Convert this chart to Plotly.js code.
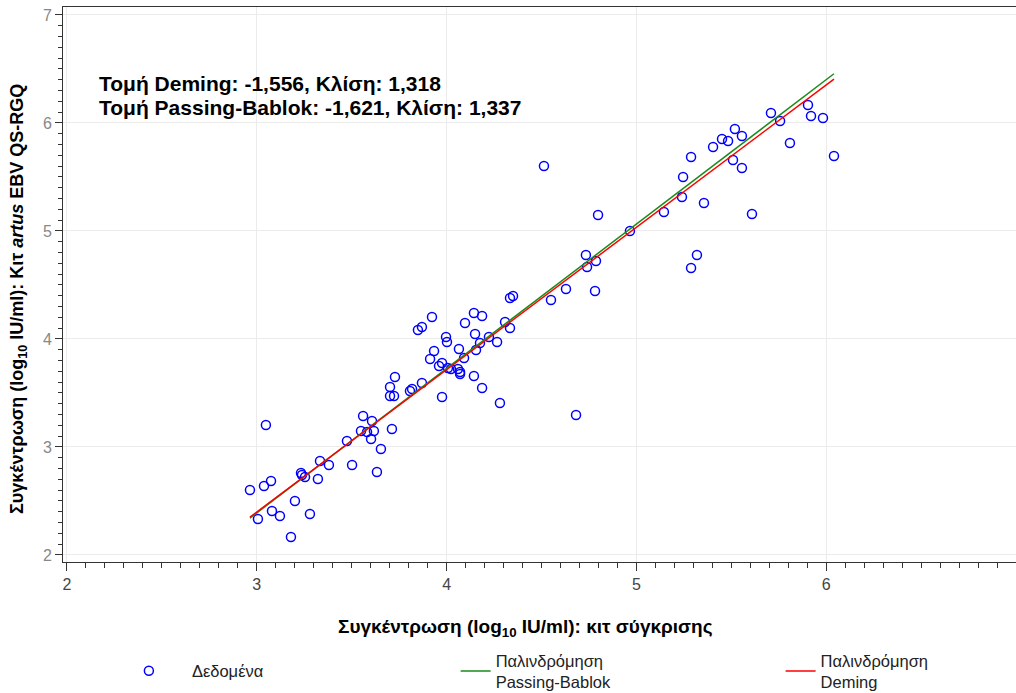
<!DOCTYPE html>
<html>
<head>
<meta charset="utf-8">
<script src="https://cdn.plot.ly/plotly-3.0.1.min.js"></script>
<style>html,body{margin:0;padding:0;background:#fff;}#chart{width:1016px;height:693px;}</style>
</head>
<body>
<div id="chart"></div>
<script>
// Comparison kit (x) and artus EBV QS-RGQ kit (y), log10 IU/ml
const xData = [2.964,3.006,3.038,3.048,3.075,3.080,3.122,3.180,3.201,3.233,3.238,3.254,3.280,3.322,3.333,3.380,3.475,3.502,3.560,3.549,3.581,3.607,3.617,3.602,3.654,3.633,3.712,
  3.728,3.702,3.702,3.723,3.807,3.818,3.870,3.849,3.870,3.923,3.913,3.934,3.960,3.976,3.976,3.997,4.002,4.007,4.023,4.060,4.071,4.071,4.065,4.092,4.097,4.144,4.150,4.155,4.144,4.176,4.187,4.187,4.223,4.266,4.281,4.308,4.334,4.334,4.350,4.550,4.629,4.682,
  4.513,4.734,4.740,4.787,4.782,4.798,4.966,5.145,5.240,5.246,5.288,5.288,5.319,5.356,5.404,5.451,5.483,5.519,5.556,5.509,5.556,5.609,5.709,5.757,5.809,5.904,5.920,5.983,6.041];
const yData = [2.602,2.333,2.639,3.204,2.685,2.407,2.361,2.167,2.500,2.759,2.741,2.722,2.380,2.704,2.870,2.833,3.056,2.833,3.287,3.148,3.139,3.241,3.148,3.074,2.981,2.769,3.167,
  3.648,3.556,3.472,3.472,3.519,3.537,3.593,4.083,4.111,4.204,3.815,3.889,3.750,3.778,3.463,4.019,3.972,3.731,3.722,3.722,3.694,3.676,3.907,3.824,4.148,4.241,4.046,3.898,3.657,3.963,4.213,3.546,4.019,3.972,3.407,4.157,4.102,4.380,4.398,4.361,4.463,3.296,
  5.602,4.778,4.667,4.722,4.444,5.148,5.000,5.176,5.315,5.500,5.685,4.657,4.778,5.259,5.778,5.852,5.833,5.944,5.880,5.657,5.583,5.157,6.093,6.019,5.815,6.167,6.065,6.046,5.694];

// Regression results shown on the chart
const demingIntercept = -1.556, demingSlope = 1.318;
const pbIntercept = -1.621, pbSlope = 1.337;

const xTicks = [2,3,4,5,6,7];
const yTicks = [2,3,4,5,6,7];

const xMin = Math.min(...xData), xMax = Math.max(...xData);
const lineX = [xMin, xMax];
const demingY = lineX.map(v => demingIntercept + demingSlope * v);
const pbY = lineX.map(v => pbIntercept + pbSlope * v);

const FONT = 'Arial, "Liberation Sans", sans-serif';
const fmt = v => v.toFixed(3).replace('.', ',');

const traces = [
  {
    x: xData, y: yData, type: 'scatter', mode: 'markers', name: 'Δεδομένα',
    marker: {symbol: 'circle-open', size: 9, color: '#0000ff', line: {width: 1.5, color: '#0000ff'}},
    legend: 'legend', hoverinfo: 'x+y'
  },
  {
    x: lineX, y: pbY, type: 'scatter', mode: 'lines', name: 'Παλινδρόμηση<br>Passing-Bablok',
    line: {color: '#1a8c1a', width: 1.5}, legend: 'legend2'
  },
  {
    x: lineX, y: demingY, type: 'scatter', mode: 'lines', name: 'Παλινδρόμηση<br>Deming',
    line: {color: '#ff0000', width: 1.5}, legend: 'legend3'
  }
];

const legendBase = {
  orientation: 'v', yanchor: 'middle', xanchor: 'left', y: (562 - 671) / 555,
  bgcolor: 'rgba(0,0,0,0)', borderwidth: 0,
  font: {family: FONT, size: 16.5, color: '#222'}
};

const axisCommon = {
  showline: true, linecolor: '#333', linewidth: 1, mirror: true,
  showgrid: true, gridcolor: '#ebebeb', gridwidth: 1,
  zeroline: false, ticks: 'outside', tickcolor: '#333', tickwidth: 1,
  automargin: false,
  tickfont: {family: FONT, size: 16, color: '#444'}
};

const layout = {
  width: 1016, height: 693,
  margin: {l: 63, r: 0, t: 7, b: 131, autoexpand: false},
  paper_bgcolor: '#fff', plot_bgcolor: '#fff',
  font: {family: FONT},
  showlegend: true,
  xaxis: Object.assign({}, axisCommon, {
    range: [1.979, 7.0], tickvals: xTicks, ticklen: 8,
    minor: {dtick: 0.1, tick0: 2, ticks: 'outside', ticklen: 5, tickcolor: '#333', showgrid: false}
  }),
  yaxis: Object.assign({}, axisCommon, {
    range: [1.935, 7.074], tickvals: yTicks, ticklen: 7,
    tickfont: {family: FONT, size: 16, color: '#888'},
    minor: {dtick: 0.1, tick0: 2, ticks: 'outside', ticklen: 4, tickcolor: '#333', showgrid: false}
  }),
  legend: Object.assign({}, legendBase, {x: 0.045, itemwidth: 76}),
  legend2: Object.assign({}, legendBase, {x: 0.412}),
  legend3: Object.assign({}, legendBase, {x: 0.753}),
  annotations: [
    {
      xref: 'paper', yref: 'paper', x: 0.0357, y: (562 - 83) / 555, xanchor: 'left', yanchor: 'middle',
      align: 'left', showarrow: false,
      text: '<b>Τομή Deming: ' + fmt(demingIntercept) + ', Κλίση: ' + fmt(demingSlope) + '</b>',
      font: {family: FONT, size: 21, color: '#000'}
    },
    {
      xref: 'paper', yref: 'paper', x: 0.0357, y: (562 - 107) / 555, xanchor: 'left', yanchor: 'middle',
      align: 'left', showarrow: false,
      text: '<b>Τομή Passing-Bablok: ' + fmt(pbIntercept) + ', Κλίση: ' + fmt(pbSlope) + '</b>',
      font: {family: FONT, size: 21, color: '#000'}
    },
    {
      xref: 'paper', yref: 'paper', x: (525 - 63) / 953, y: (562 - 628) / 555, xanchor: 'center', yanchor: 'middle',
      showarrow: false,
      text: '<b>Συγκέντρωση (log<sub>10</sub> IU/ml): κιτ σύγκρισης</b>',
      font: {family: FONT, size: 19, color: '#000'}
    },
    {
      xref: 'paper', yref: 'paper', x: (18 - 63) / 953, y: (562 - 299) / 555, xanchor: 'center', yanchor: 'middle',
      textangle: -90, showarrow: false,
      text: '<b>Συγκέντρωση (log<sub>10</sub> IU/ml): Κιτ <i>artus</i> EBV QS-RGQ</b>',
      font: {family: FONT, size: 18, color: '#000'}
    }
  ]
};

Plotly.newPlot('chart', traces, layout, {displayModeBar: false, staticPlot: true});
</script>
</body>
</html>
